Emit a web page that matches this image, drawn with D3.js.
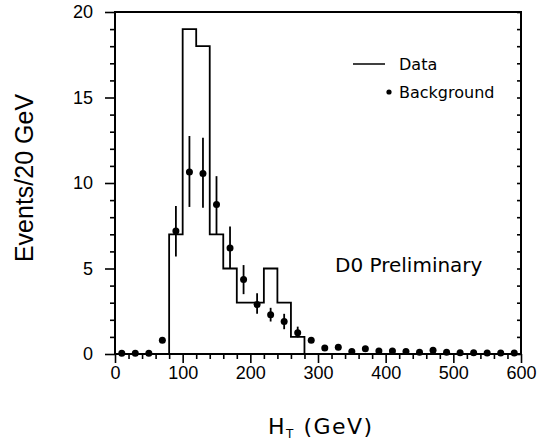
<!DOCTYPE html>
<html>
<head>
<meta charset="utf-8">
<script src="https://cdn.jsdelivr.net/npm/d3@7"></script>
<style>
  html, body { margin: 0; padding: 0; background: #fff; }
  svg { display: block; }
</style>
</head>
<body>
<svg id="chart" width="537" height="446"></svg>
<script>
// ---- data ----
const binCenters = [10,30,50,70,90,110,130,150,170,190,210,230,250,270,290,310,330,350,370,390,410,430,450,470,490,510,530,550,570,590];
const binEdges = [0,20,40,60,80,100,120,140,160,180,200,220,240,260,280,300,320,340,360,380,400,420,440,460,480,500,520,540,560,580,600];
const dataCounts = [0,0,0,0,7,19,18,7,5,3,3,5,3,1,0,0,0,0,0,0,0,0,0,0,0,0,0,0,0,0];
const bkgValues = [0.04,0.04,0.04,0.8,7.2,10.65,10.55,8.75,6.2,4.35,2.9,2.3,1.9,1.25,0.8,0.35,0.4,0.15,0.3,0.18,0.18,0.14,0.1,0.22,0.1,0.07,0.07,0.06,0.06,0.06];
const errCenters = [90,110,130,150,170,190,210,230,250,270];
const errLow  = [5.7,8.6,8.55,7.0,5.0,3.5,2.35,1.9,1.45,0.97];
const errHigh = [8.65,12.75,12.65,10.4,7.45,5.2,3.55,2.7,2.35,1.6];
const xMajorTicks = [0,100,200,300,400,500,600];
const xMinorTicks = [20,40,60,80,120,140,160,180,220,240,260,280,320,340,360,380,420,440,460,480,520,540,560,580];
const yMajorTicks = [0,5,10,15,20];
const yMinorTicks = [1,2,3,4,6,7,8,9,11,12,13,14,16,17,18,19];

// ---- layout ----
const svg = d3.select("#chart");
const L = 115, R = 521, T = 12, B = 354;
const x = d3.scaleLinear().domain([0,600]).range([L,R]);
const y = d3.scaleLinear().domain([0,20]).range([B,T]);
const tickFont = "'Liberation Sans', Arial, sans-serif";
const labelFont = "'DejaVu Sans', sans-serif";

// axes
function styleAxis(g){
  g.select(".domain").remove();
  g.selectAll("line").attr("stroke","#000").attr("stroke-width",1.6);
  g.selectAll("text").attr("fill","#000").style("font-family",tickFont).style("font-size","18px");
}
svg.append("g").attr("transform",`translate(0,${B})`)
  .call(d3.axisBottom(x).tickValues(xMajorTicks).tickSize(9).tickPadding(3).tickFormat(d3.format("d")))
  .call(styleAxis);
svg.append("g").attr("transform",`translate(0,${B})`)
  .call(d3.axisBottom(x).tickValues(xMinorTicks).tickSize(5).tickFormat(""))
  .call(styleAxis);
svg.append("g").attr("transform",`translate(${L},0)`)
  .call(d3.axisLeft(y).tickValues(yMajorTicks).tickSize(10).tickPadding(12).tickFormat(d3.format("d")))
  .call(styleAxis);
svg.append("g").attr("transform",`translate(${L},0)`)
  .call(d3.axisLeft(y).tickValues(yMinorTicks).tickSize(5).tickFormat(""))
  .call(styleAxis);
// right side small inner ticks
svg.append("g").attr("transform",`translate(${R},0)`)
  .call(d3.axisRight(y).tickValues(yMinorTicks.concat(yMajorTicks)).tickSize(-4).tickFormat(""))
  .call(styleAxis);

// frame
svg.append("rect").attr("x",L).attr("y",T).attr("width",R-L).attr("height",B-T)
  .attr("fill","none").attr("stroke","#000").attr("stroke-width",2);

// data histogram (step line)
const stepPts = binEdges.map((e,i)=>[e, i < dataCounts.length ? dataCounts[i] : dataCounts[dataCounts.length-1]]);
const stepLine = d3.line().x(d=>x(d[0])).y(d=>y(d[1])).curve(d3.curveStepAfter);
svg.append("path").datum(stepPts).attr("d",stepLine)
  .attr("fill","none").attr("stroke","#000").attr("stroke-width",1.8);

// error bars
svg.append("g").selectAll("line").data(errCenters).join("line")
  .attr("x1",d=>x(d)).attr("x2",d=>x(d))
  .attr("y1",(d,i)=>y(errLow[i])).attr("y2",(d,i)=>y(errHigh[i]))
  .attr("stroke","#000").attr("stroke-width",1.8);

// background points
svg.append("g").selectAll("circle").data(binCenters).join("circle")
  .attr("cx",d=>x(d)).attr("cy",(d,i)=>y(bkgValues[i])).attr("r",3.5).attr("fill","#000");

// legend
svg.append("line").attr("x1",353).attr("x2",385).attr("y1",64).attr("y2",64)
  .attr("stroke","#000").attr("stroke-width",1.5);
svg.append("text").attr("x",399).attr("y",70).text("Data")
  .style("font-family",labelFont).style("font-size","16px").attr("fill","#000");
svg.append("circle").attr("cx",389).attr("cy",92).attr("r",2.6).attr("fill","#000");
svg.append("text").attr("x",399).attr("y",98).text("Background")
  .style("font-family",labelFont).style("font-size","16px").attr("fill","#000");

// annotation
svg.append("text").attr("x",335).attr("y",272).text("D0 Preliminary")
  .style("font-family",labelFont).style("font-size","20px").attr("fill","#000");

// axis titles
svg.append("text").attr("transform","translate(33,178) rotate(-90)")
  .attr("text-anchor","middle").text("Events/20 GeV")
  .style("font-family",tickFont).style("font-size","25px").attr("fill","#000");
const xt = svg.append("text").attr("x",268).attr("y",434)
  .style("font-family",labelFont).style("font-size","22px").style("letter-spacing","1.5px").attr("fill","#000");
xt.append("tspan").text("H");
xt.append("tspan").attr("dy",4).style("font-size","12px").text("T");
xt.append("tspan").attr("dy",-4).text(" (GeV)");
</script>
</body>
</html>
